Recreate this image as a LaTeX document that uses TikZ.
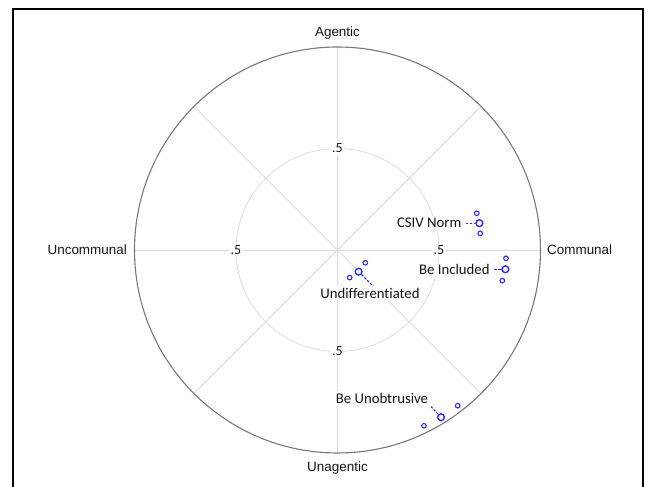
\documentclass[tikz,border=0pt]{standalone}
\usepackage{fontspec}
\setmainfont{Carlito}[Ligatures=NoCommon]
\newfontfamily\axisfont{Liberation Sans}
\usetikzlibrary{positioning}

\definecolor{ptblue}{RGB}{45,45,250}
\definecolor{spokegray}{RGB}{220,220,220}
\definecolor{rimgray}{RGB}{120,120,120}
\definecolor{txtgray}{RGB}{20,20,20}

\begin{document}
\begin{tikzpicture}[x=203bp,y=203bp,
  axislab/.style={font=\axisfont\fontsize{13.5}{16}\selectfont, text=txtgray, inner sep=2bp},
  ticklab/.style={font=\fontsize{14}{16}\selectfont, text=txtgray, fill=white, inner sep=1.5bp},
  ptlab/.style={font=\fontsize{14.8}{17}\selectfont, text=txtgray, fill=white, inner sep=2bp},
  meanpt/.style={circle, draw=ptblue, line width=1.4bp, minimum size=6.8bp, inner sep=0pt},
  cipt/.style={circle, draw=ptblue, line width=1.1bp, minimum size=4.6bp, inner sep=0pt},
  lead/.style={ptblue, line width=1bp, dash pattern=on 2.5bp off 1.5bp}]

\useasboundingbox (-1.6626,-1.1675) rectangle (1.5296,1.2315);
\draw[line width=1.5bp] (-1.5985,-1.25) -- (-1.5985,1.1872) -- (1.5049,1.1872) -- (1.5049,-1.25);

% grid
\foreach \a in {0,45,...,315}
  \draw[spokegray, line width=0.8bp] (0,0) -- (\a:1);
\draw[spokegray, line width=0.8bp] (0,0) circle (0.5);
\draw[rimgray, line width=1.1bp] (0,0) circle (1);

\node[ticklab] (tn) at (0,0.5) {.5};
\node[ticklab] (ts) at (0,-0.5) {.5};
\node[ticklab] (tw) at (-0.5,0) {.5};
\node[ticklab] (te) at (0.5,0) {.5};

\node[axislab] (agentic) at (0,1.069) {Agentic};
\node[axislab] (unagentic) at (0,-1.074) {Unagentic};
\node[axislab, anchor=east] (uncommunal) at (-1.027,0) {Uncommunal};
\node[axislab, anchor=west] (communal) at (1.022,0) {Communal};

% profiles
\node[cipt] (csivhi) at (0.686,0.181) {};
\node[cipt] (csivlo) at (0.703,0.082) {};
\node[meanpt] (csiv) at (0.699,0.132) {};
\node[ptlab, left=11.8bp of csiv] (csivlab) {CSIV Norm};
\draw[lead, shorten <=2.5bp] (csivlab) -- (csiv);

\node[cipt] (inclhi) at (0.830,-0.041) {};
\node[cipt] (incllo) at (0.812,-0.151) {};
\node[meanpt] (incl) at (0.827,-0.095) {};
\node[ptlab, left=9.5bp of incl] (incllab) {Be Included};
\draw[lead, shorten <=2.5bp] (incllab) -- (incl);

\node[cipt] (undifhi) at (0.137,-0.063) {};
\node[cipt] (undiflo) at (0.060,-0.136) {};
\node[meanpt] (undif) at (0.104,-0.107) {};
\node[ptlab] (undiflab) at (0.160,-0.213) {Undifferentiated};
\draw[lead, shorten >=1.5bp] (undif) -- (undiflab.70);

\node[cipt] (unobhi) at (0.592,-0.767) {};
\node[cipt] (unoblo) at (0.426,-0.866) {};
\node[meanpt] (unob) at (0.510,-0.824) {};
\node[ptlab] (unoblab) at (0.219,-0.731) {Be Unobtrusive};
\draw[lead, shorten <=1bp] (unoblab.south east) -- (unob);

\end{tikzpicture}
\end{document}
